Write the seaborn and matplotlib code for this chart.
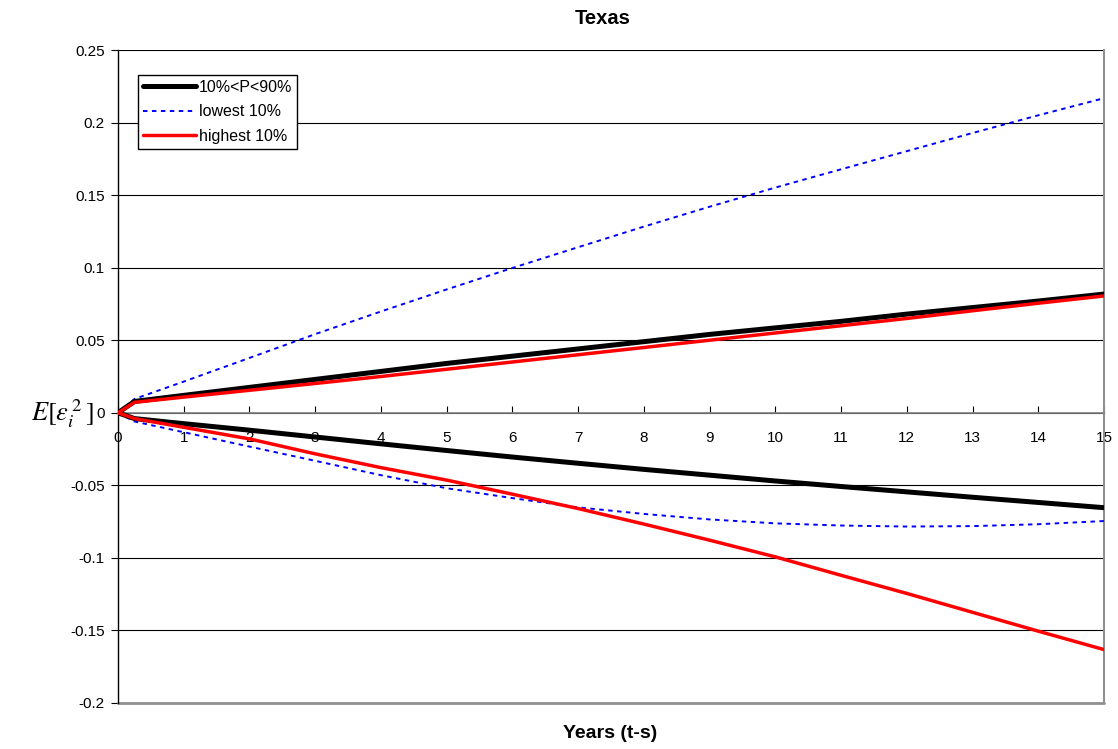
import numpy as np
import pandas as pd
import matplotlib
matplotlib.use("Agg")
import matplotlib.pyplot as plt
import seaborn as sns

# ---- data ----
years = [0, 0.25, 1, 2, 3, 4, 5, 6, 7, 8, 9, 10, 11, 12, 13, 14, 15]

mid_upper = [0, 0.0078, 0.012, 0.0175, 0.023, 0.0285, 0.034, 0.039, 0.044, 0.049,
             0.054, 0.0585, 0.063, 0.068, 0.0725, 0.077, 0.0818]
mid_lower = [0, -0.004, -0.0075, -0.012, -0.0167, -0.0214, -0.026, -0.0305, -0.0348,
             -0.039, -0.043, -0.047, -0.0508, -0.0545, -0.0582, -0.0618, -0.0654]

low_upper = [0, 0.0095, 0.0215, 0.0378, 0.0542, 0.0698, 0.085, 0.0998, 0.1141, 0.1283,
             0.142, 0.1552, 0.1678, 0.1803, 0.1928, 0.205, 0.2168]
low_lower = [0, -0.006, -0.0134, -0.0233, -0.0331, -0.043, -0.052, -0.0588, -0.0652,
             -0.0697, -0.0735, -0.0762, -0.0777, -0.0784, -0.0781, -0.0768, -0.0746]

high_upper = [0, 0.0072, 0.0108, 0.0155, 0.0202, 0.025, 0.030, 0.035, 0.040, 0.045,
              0.050, 0.055, 0.060, 0.065, 0.0703, 0.0755, 0.0805]
high_lower = [0, -0.004, -0.010, -0.018, -0.0283, -0.0378, -0.0464, -0.0561, -0.066,
              -0.0767, -0.0878, -0.0993, -0.112, -0.1245, -0.1375, -0.1505, -0.1632]

labels = ["10%<P<90%", "lowest 10%", "highest 10%"]
yticks = [-0.2, -0.15, -0.1, -0.05, 0, 0.05, 0.1, 0.15, 0.2, 0.25]
ytick_labels = ["-0.2", "-0.15", "-0.1", "-0.05", "0", "0.05", "0.1", "0.15", "0.2", "0.25"]
xticks = list(range(0, 16))

sns.set_theme(style="white")
plt.rcParams["font.family"] = ["Liberation Sans", "DejaVu Sans"]
plt.rcParams["mathtext.fontset"] = "stix"
plt.rcParams["text.color"] = "black"

fig = plt.figure(figsize=(11.18, 7.49), dpi=100)
ax = fig.add_axes([118 / 1118, 1 - 703 / 749, (1104 - 118) / 1118, (703 - 50) / 749])

styles = {
    labels[0]: dict(color="black", linewidth=3.6, linestyle="-", zorder=4),
    labels[1]: dict(color="#0000FF", linewidth=1.4, linestyle=(0, (2.3, 2.3)), zorder=3),
    labels[2]: dict(color="#FF0000", linewidth=2.5, linestyle="-", zorder=5),
}
series = {
    labels[0]: (mid_upper, mid_lower),
    labels[1]: (low_upper, low_lower),
    labels[2]: (high_upper, high_lower),
}

for lab in labels:
    up, lo = series[lab]
    for branch, vals in (("upper", up), ("lower", lo)):
        df = pd.DataFrame({"t": years, "v": vals})
        sns.lineplot(data=df, x="t", y="v", ax=ax, sort=False, estimator=None,
                     label=lab if branch == "upper" else None, **styles[lab])

ax.set_xlim(0, 15)
ax.set_ylim(-0.2, 0.25)
ax.set_yticks(yticks)
ax.set_yticklabels(ytick_labels, fontsize=11)
ax.set_xticks(xticks)
ax.set_xticklabels([str(x) for x in xticks], fontsize=11)

ax.grid(axis="y", color="black", linewidth=0.8)
ax.grid(axis="x", visible=False)
ax.set_axisbelow(True)

ax.spines["top"].set_visible(False)
ax.spines["right"].set_color("#909090")
ax.spines["right"].set_linewidth(1.5)
ax.spines["left"].set_color("black")
ax.spines["left"].set_linewidth(1.0)
ax.spines["bottom"].set_position(("data", 0))
ax.spines["bottom"].set_color("#808080")
ax.spines["bottom"].set_linewidth(1.2)
# bottom frame line of the plot area
ax.axhline(-0.2, color="#909090", linewidth=2.0, zorder=1, clip_on=False)

ax.tick_params(axis="y", which="both", left=True, direction="out", length=5, width=0.8,
               color="black", pad=4.5, labelcolor="black")
ax.tick_params(axis="x", which="both", bottom=True, direction="in", length=5, width=0.8,
               color="black", pad=13, labelcolor="black")

ax.set_xlabel("")
ax.set_ylabel("")
fig.text(603 / 1118, 1 - 18 / 749, "Texas", ha="center", va="center",
         fontsize=14.5, fontweight="bold", color="black")
fig.text(610 / 1118, 1 - 733 / 749, "Years (t-s)", ha="center", va="center",
         fontsize=14, fontweight="bold", color="black")
fig.text(62 / 1118, 1 - 414 / 749, r"$E[\varepsilon_i^{\,2}\,]$", ha="center", va="center",
         fontsize=19, color="black")

h, l = ax.get_legend_handles_labels()
order = [l.index(x) for x in labels]
leg = ax.legend([h[i] for i in order], [l[i] for i in order], loc="upper left",
                bbox_to_anchor=((138 - 118) / 986, 1 - (75 - 50) / 653), fontsize=11.5,
                frameon=True, fancybox=False, edgecolor="black", framealpha=1,
                borderpad=0.3, handlelength=3.3, handletextpad=0.2, labelspacing=0.6,
                borderaxespad=0)
leg.get_frame().set_linewidth(1.0)
for t in leg.get_texts():
    t.set_color("black")

fig.savefig("out.png", dpi=100)
